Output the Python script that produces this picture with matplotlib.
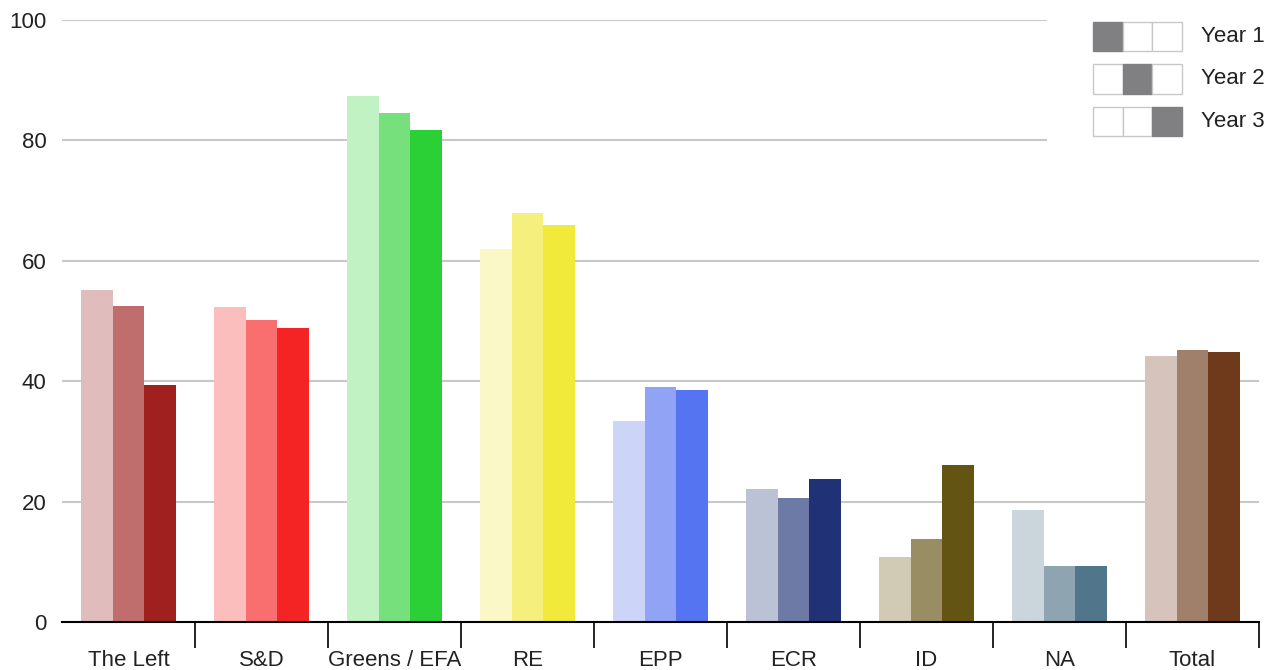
import numpy as np
import matplotlib
matplotlib.use("Agg")
import matplotlib.pyplot as plt
from matplotlib.patches import Rectangle

plt.rcParams["font.family"] = ["Liberation Sans", "DejaVu Sans"]

# =============================================================================
# DATA
# =============================================================================
groups = ["The Left", "S&D", "Greens / EFA", "RE", "EPP", "ECR", "ID", "NA", "Total"]
year1 = [55.1, 52.3, 87.4, 62.0, 33.4, 22.1, 10.8, 18.6, 44.2]
year2 = [52.5, 50.2, 84.6, 67.9, 39.0, 20.6, 13.8, 9.3, 45.2]
year3 = [39.4, 48.8, 81.7, 65.9, 38.5, 23.8, 26.1, 9.3, 44.9]
series_labels = ["Year 1", "Year 2", "Year 3"]
y_ticks = [0, 20, 40, 60, 80, 100]

colors = {
    "The Left": ["#e0bcbc", "#c06e6d", "#a01f1f"],
    "S&D": ["#fcbdbd", "#f96e6e", "#f52424"],
    "Greens / EFA": ["#c0f2c4", "#76e07d", "#2bcf36"],
    "RE": ["#fbf8c8", "#f5f07e", "#f1ea3b"],
    "EPP": ["#ccd5f8", "#91a3f4", "#5574f2"],
    "ECR": ["#bcc2d6", "#6e7aa6", "#213176"],
    "ID": ["#d1cbb6", "#998e63", "#645413"],
    "NA": ["#cbd6dc", "#8ea4b1", "#51758b"],
    "Total": ["#d6c3bb", "#a1806b", "#6f391b"],
}

TEXT = "#222222"
GRID = "#c8c8c8"
LEGEND_GRAY = "#808083"
FS = 16

fig = plt.figure(figsize=(12.71, 6.70), dpi=100)
ax = fig.add_axes([0.0488, 0.0716, 0.9418, 0.8985])

x = np.arange(len(groups))
width = 0.236
for i, vals in enumerate([year1, year2, year3]):
    ax.bar(
        x + (i - 1) * width,
        vals,
        width,
        color=[colors[g][i] for g in groups],
        zorder=2,
        linewidth=0,
    )

ax.set_xlim(-0.5, len(groups) - 0.5)
ax.set_ylim(0, 100)

# gridlines (top two stop where the legend sits)
for y in y_ticks[1:]:
    ax.axhline(y, xmin=0, xmax=1 if y <= 60 else 0.822, color=GRID, lw=1.5, zorder=1)

for s in ["top", "right", "left"]:
    ax.spines[s].set_visible(False)
ax.spines["bottom"].set_color("black")
ax.spines["bottom"].set_linewidth(1.5)
ax.spines["bottom"].set_zorder(3)

ax.set_yticks(y_ticks)
ax.tick_params(axis="y", length=0, pad=11, labelsize=FS, labelcolor=TEXT)

ax.set_xticks(x)
ax.set_xticklabels(groups)
ax.tick_params(axis="x", which="major", length=0, pad=20, labelsize=FS, labelcolor=TEXT)
ax.set_xticks(np.arange(len(groups)) + 0.5, minor=True)
ax.tick_params(axis="x", which="minor", length=19, width=1.2, color="black")

# legend: three-cell swatches
cell_w, cell_h = 29.5 / 1271, 29 / 670
x0 = 1093 / 1271
for r, lab in enumerate(series_labels):
    top = 1 - (22 + r * 42.5) / 670
    for c in range(3):
        fig.patches.append(
            Rectangle(
                (x0 + c * cell_w, top - cell_h),
                cell_w,
                cell_h,
                transform=fig.transFigure,
                facecolor=LEGEND_GRAY if c == r else "white",
                edgecolor=LEGEND_GRAY if c == r else GRID,
                linewidth=1,
            )
        )
    fig.text(1201 / 1271, top - cell_h / 2, lab, fontsize=FS, color=TEXT, va="center", ha="left")

fig.savefig("out.png", dpi=100)
